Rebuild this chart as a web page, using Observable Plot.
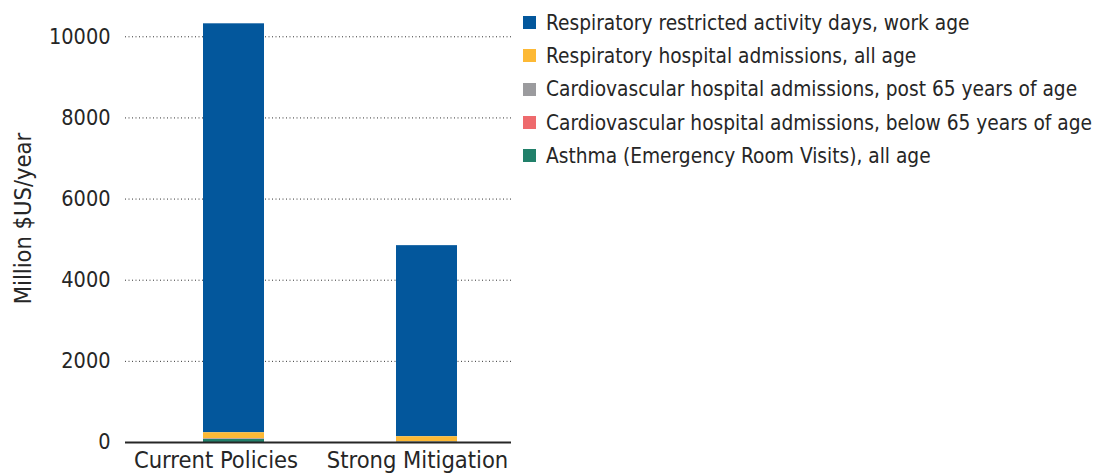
<!DOCTYPE html>
<html>
<head>
<meta charset="utf-8">
<script src="https://cdn.jsdelivr.net/npm/d3@7"></script>
<script src="https://cdn.jsdelivr.net/npm/@observablehq/plot@0.6"></script>
<style>
  html, body { margin: 0; padding: 0; background: #fff; }
  body { width: 1094px; height: 476px; overflow: hidden; font-family: "DejaVu Sans Condensed", "DejaVu Sans", sans-serif; font-stretch: condensed; color: #262626; }
  #wrap { position: relative; width: 1094px; height: 476px; }
  #legend { position: absolute; left: 523px; top: 6px; font-size: 20.7px; }
  .row { display: flex; align-items: center; height: 33.3px; white-space: nowrap; }
  .sw { width: 13px; height: 13px; margin-right: 10px; flex: none; }
</style>
</head>
<body>
<div id="wrap"><div id="chart"></div><div id="legend"></div></div>
<script>
const scenarios = ["Current Policies", "Strong Mitigation"];
const series = [
  "Respiratory restricted activity days, work age",
  "Respiratory hospital admissions, all age",
  "Cardiovascular hospital admissions, post 65 years of age",
  "Cardiovascular hospital admissions, below 65 years of age",
  "Asthma (Emergency Room Visits), all age"
];
const colors = ["#03579c", "#fdb935", "#9b9b9e", "#ee6a6d", "#21806a"];
const respRestrictedDays = [10080, 4710];
const respHospital = [145, 125];
const cardioPost65 = [15, 8];
const cardioBelow65 = [5, 3];
const asthmaER = [75, 6];
const yTicks = [0, 2000, 4000, 6000, 8000, 10000];
const yLabel = "Million $US/year";

const valuesBySeries = [respRestrictedDays, respHospital, cardioPost65, cardioBelow65, asthmaER];
const data = [];
series.forEach((s, i) => scenarios.forEach((c, j) => data.push({scenario: c, series: s, value: valuesBySeries[i][j]})));
const stackOrder = series.slice().reverse(); // bottom to top

const fontFamily = '"DejaVu Sans Condensed", "DejaVu Sans", sans-serif';

const chart = Plot.plot({
  width: 520,
  height: 476,
  marginLeft: 125,
  marginRight: 9,
  marginTop: 16,
  marginBottom: 34,
  style: {fontFamily, fontSize: "20px", color: "#262626", overflow: "visible", fontStretch: "condensed"},
  x: {domain: scenarios, range: [137, 523], paddingInner: 0.684, paddingOuter: 0.342, label: null},
  y: {domain: [0, 10500], label: null},
  color: {domain: series, range: colors},
  marks: [
    Plot.ruleY(yTicks.filter(d => d > 0), {stroke: "#333", strokeWidth: 1, strokeDasharray: "1,2.5"}),
    Plot.barY(data, Plot.stackY({x: "scenario", y: "value", fill: "series", order: stackOrder})),
    Plot.ruleY([0], {stroke: "#262626", strokeWidth: 2}),
    Plot.axisY({ticks: yTicks, tickSize: 0, tickPadding: 15, label: null, tickFormat: d => String(d), fontSize: 21.5}),
    Plot.axisX([scenarios[0]], {tickSize: 0, tickPadding: 9, label: null, fontSize: 23.5, dx: -18}),
    Plot.axisX([scenarios[1]], {tickSize: 0, tickPadding: 9, label: null, fontSize: 23.5, dx: -9.5}),
    Plot.text([yLabel], {frameAnchor: "left", textAnchor: "middle", rotate: -90, dx: -102, dy: -11, fontSize: 23.5, fill: "#262626"})
  ]
});
document.getElementById("chart").appendChild(chart);

const legend = document.getElementById("legend");
series.forEach((s, i) => {
  const row = document.createElement("div");
  row.className = "row";
  const sw = document.createElement("span");
  sw.className = "sw";
  sw.style.background = colors[i];
  const t = document.createElement("span");
  t.textContent = s;
  row.appendChild(sw);
  row.appendChild(t);
  legend.appendChild(row);
});
</script>
</body>
</html>
